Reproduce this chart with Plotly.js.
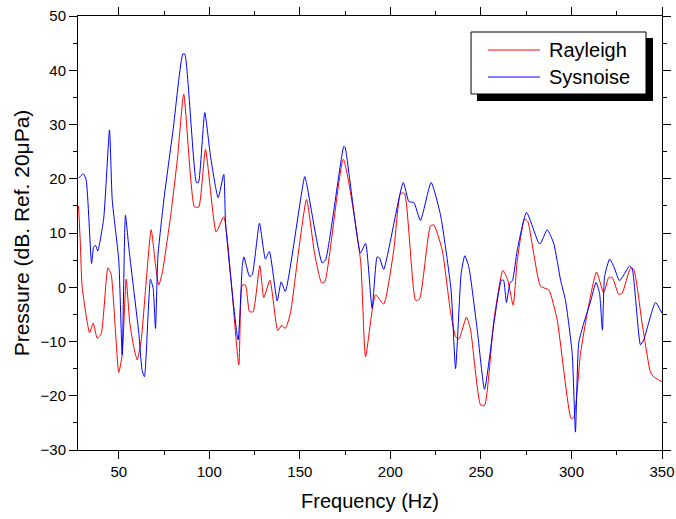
<!DOCTYPE html>
<html>
<head>
<meta charset="utf-8">
<script src="https://cdn.plot.ly/plotly-3.0.1.min.js"></script>
<style>html,body{margin:0;padding:0;background:#fff;}#chart{width:676px;height:519px;}</style>
</head>
<body>
<div id="chart"></div>
<script>
var rayleighFreq = [27.8,28.8,29.8,33.9,35.9,38.1,40.3,44,45.8,50,51.9,54.1,56.1,58.3,60.2,62.4,67.9,70.3,72.1,74,78.6,82.5,85.9,91.8,94.2,97.9,103.8,108,116.3,118.2,120,122.2,124.2,127.9,130.1,133.5,137.8,140,142,144.8,149.4,153.7,158.1,162,163.8,174,183.5,186.3,191.8,196.3,201.9,205.6,207.8,213.9,216.1,222.1,224,228.6,233.2,236,237.8,242,244.3,249.8,252,257.2,262.1,264.6,267.8,270.1,274.1,275.9,282.9,287.5,292.1,299.8,301.3,305,308.7,313.8,317.8,320.6,322.5,326.1,328,332.6,334.4,339,343.6,345.4,350];
var rayleighDb = [15,8,0.1,-8.4,-6.6,-9.4,-8.6,3.6,2.4,-15.7,-12.5,1.5,-6.6,-11,-13.4,-9.7,10.6,4.1,0.4,2.6,13,24,35.6,14.8,14.8,25.4,10.2,13,-14.3,0.4,0.4,-4.5,-4.5,4,-1.9,1.3,-8,-7,-7.6,-4.8,6.9,16.2,6.3,0.8,1,23.6,5,-12.8,-1.4,-3.1,6.9,17.3,17.3,-2.4,-2.2,11.3,11.5,6.9,-4.5,-9.1,-9.6,-5.5,-7.9,-21.7,-21.8,-6,3.1,1.6,-3.3,5,12.6,12.1,0.2,-0.5,-6,-24.2,-24,-12.2,-4.8,2.8,-1,1.8,1.8,-1.3,-1.1,3.5,3.3,-6.6,-15.6,-16.5,-17.4];
var sysnoiseFreq = [27.8,30.4,32,35,36.2,37.2,38.4,41.7,44.9,46.4,50,51.9,53.7,55.6,58.3,61.1,62.9,64.2,67.5,69,70.3,71.6,74.9,80,85.4,86.5,92.9,94,97.5,100.7,104.9,108,109,115.9,118.2,119.1,122.2,123.7,127.7,131,133.2,137.5,139.7,142,152.7,153.7,162.3,164.2,174.3,175,183.5,186.3,189.9,192.7,194,196.3,207.1,210.2,213,216.6,222.5,227.7,233.5,236,239.1,241.1,243.3,248,252,257.2,261.3,262.5,264.1,266,267.5,270.1,275.2,282,283,286.6,290.2,294,296.7,300.4,302.2,304,306.8,310.5,313.6,315.5,317.1,318.3,321.1,323.4,326.6,332,333.5,338.1,339.9,346.4,350];
var sysnoiseDb = [20.1,20.9,19.8,4.4,7.5,7.7,6.7,12.7,29,16.1,5,-12.5,13.3,7.2,-0.5,-8.5,-15.3,-16.5,1.5,-0.2,-7.6,5.6,16.1,29,43,43,19.3,19.3,32.2,24.1,16.5,20.8,11.8,-9.7,3.8,5.6,2,2.3,11.8,5.2,6.6,-2.5,1,-0.8,20.4,19.2,4.5,5,26,25.8,6.3,8.1,-3.9,5.6,5.4,3.3,19.3,15.8,15.6,12.3,19.3,13.3,-0.5,-15,2.6,5.8,3.8,-7.9,-18.8,-6.6,1.3,1.3,-2.8,0.7,1.3,6.9,13.8,8.1,8.1,10.6,8.1,1.3,-2.4,-12.2,-26.7,-10.3,-6.6,-2.7,0.9,-1.1,-7.9,2,5.2,3.8,1.2,3.9,3.5,-10.6,-9.7,-2.8,-4.8];
var seriesNames = ["Rayleigh", "Sysnoise"];
var seriesColors = ["#ff0000", "#0000ff"];
var xTitle = "Frequency (Hz)";
var yTitle = "Pressure (dB. Ref. 20\u03bcPa)";

var traces = [
  {x: rayleighFreq, y: rayleighDb, name: seriesNames[0], type: "scatter", mode: "lines",
   line: {color: seriesColors[0], width: 1, shape: "spline", smoothing: 0.5}},
  {x: sysnoiseFreq, y: sysnoiseDb, name: seriesNames[1], type: "scatter", mode: "lines",
   line: {color: seriesColors[1], width: 1, shape: "spline", smoothing: 0.5}}
];

var fontFam = "Arial, 'Liberation Sans', sans-serif";

// manual legend (box with drop shadow, like the original)
var legendRows = [0.9216, 0.8594];
var shapes = [
  {type: "rect", xref: "paper", yref: "paper", x0: 0.6832, x1: 0.9846, y0: 0.8041, y1: 0.9493,
   fillcolor: "#000", line: {width: 0}, layer: "above"},
  {type: "rect", xref: "paper", yref: "paper", x0: 0.673, x1: 0.9726, y0: 0.8203, y1: 0.9631,
   fillcolor: "#fff", line: {width: 1, color: "#000"}, layer: "above"}
];
var annotations = [];
seriesNames.forEach(function (n, i) {
  shapes.push({type: "line", xref: "paper", yref: "paper", x0: 0.7021, x1: 0.7911,
               y0: legendRows[i], y1: legendRows[i], line: {color: seriesColors[i], width: 1}, layer: "above"});
  annotations.push({xref: "paper", yref: "paper", x: 0.8031, y: legendRows[i], xanchor: "left", yanchor: "middle",
                    text: n, showarrow: false, font: {family: fontFam, size: 20, color: "#000"}});
});

var layout = {
  width: 676, height: 519,
  margin: {l: 78, r: 14, t: 16, b: 69},
  paper_bgcolor: "#fff", plot_bgcolor: "#fff",
  font: {family: fontFam, color: "#000"},
  showlegend: false,
  xaxis: {range: [27.5, 350], tickmode: "linear", tick0: 50, dtick: 50,
          showgrid: false, zeroline: false, showline: true, linecolor: "#000", linewidth: 1,
          mirror: "ticks", ticks: "outside", ticklen: 8, tickcolor: "#000",
          minor: {dtick: 25, tick0: 25, ticks: "outside", ticklen: 4, tickcolor: "#000", showgrid: false},
          tickfont: {size: 15, family: fontFam},
          title: {text: xTitle, font: {size: 20, family: fontFam}, standoff: 14}},
  yaxis: {range: [-30, 50], tickmode: "linear", tick0: -30, dtick: 10,
          showgrid: false, zeroline: false, showline: true, linecolor: "#000", linewidth: 1,
          mirror: "ticks", ticks: "outside", ticklen: 8, tickcolor: "#000",
          minor: {dtick: 5, ticks: "outside", ticklen: 4, tickcolor: "#000", showgrid: false},
          tickfont: {size: 15, family: fontFam},
          title: {text: yTitle, font: {size: 21, family: fontFam}, standoff: 5}},
  shapes: shapes,
  annotations: annotations
};

Plotly.newPlot("chart", traces, layout, {displayModeBar: false, staticPlot: true});
</script>
</body>
</html>
